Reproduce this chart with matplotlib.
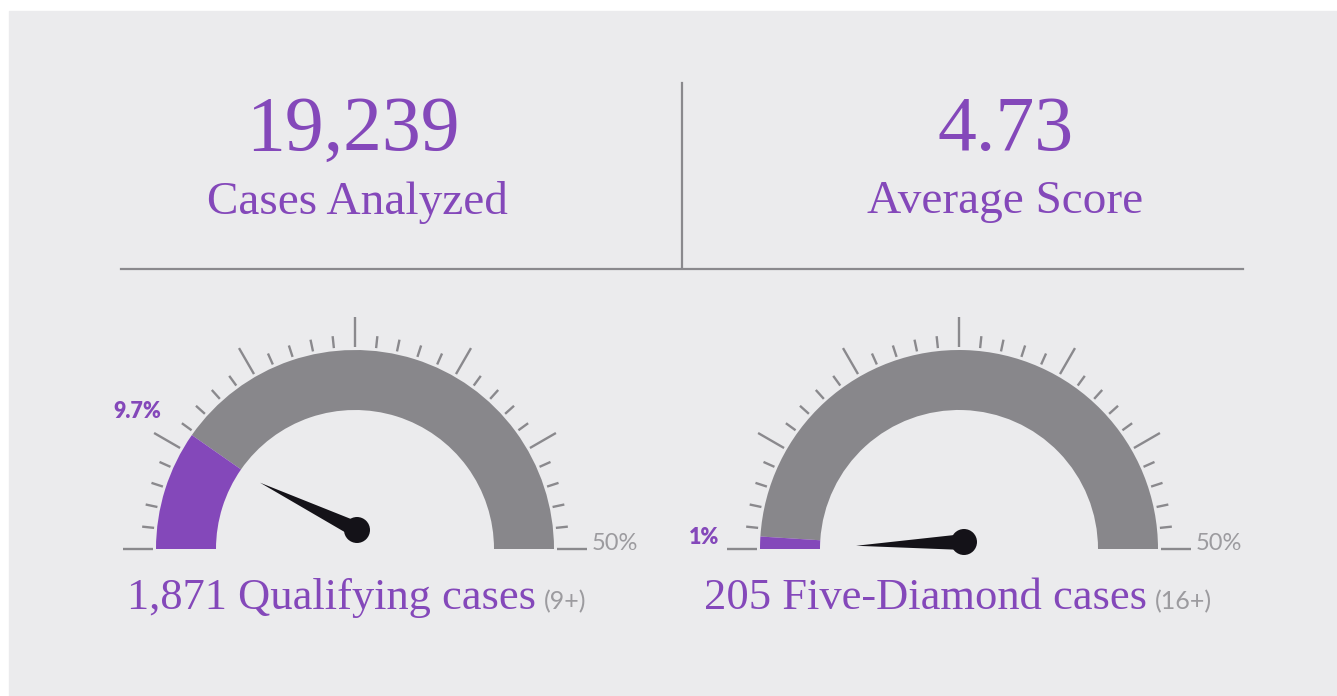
import numpy as np
import matplotlib
matplotlib.use("Agg")
import matplotlib.pyplot as plt
from matplotlib.patches import Wedge, Circle, Polygon, Rectangle

# summary numbers
stat_values = ["19,239", "4.73"]
stat_labels = ["Cases Analyzed", "Average Score"]

# gauges
gauge_values = [9.7, 1.0]          # percent
gauge_max = 50
value_labels = ["9.7%", "1%"]
counts = ["1,871", "205"]
names = ["Qualifying cases", "Five-Diamond cases"]
thresholds = ["(9+)", "(16+)"]
needle_deg = [154, 182]            # needle direction

PURPLE = "#8448ba"
ARC = "#88878b"
TICK = "#8a898d"
LIGHT = "#9c9b9f"
BG = "#ebebed"
NEEDLE = "#141218"

W, H = 1337, 696
fig = plt.figure(figsize=(W / 100, H / 100), dpi=100)
fig.patch.set_facecolor("white")
ax = fig.add_axes([0, 0, 1, 1])
ax.set_xlim(0, W)
ax.set_ylim(0, H)
ax.set_aspect("equal")
ax.axis("off")

def Y(y):  # image y (top-down) -> axis y
    return H - y

ax.add_patch(Rectangle((9, 0), W, Y(11), color=BG, zorder=0))

serif = ["Liberation Serif", "DejaVu Serif"]
sans = ["Lato", "DejaVu Sans"]

# top stats
for cx, lx, val, lab in zip([353, 1006], [357, 1005], stat_values, stat_labels):
    ax.text(cx, Y(131), val, ha="center", va="center", fontsize=56,
            family=serif, color=PURPLE)
    ax.text(lx, Y(202), lab, ha="center", va="center", fontsize=34,
            family=serif, color=PURPLE)

ax.plot([682, 682], [Y(83), Y(268)], color=TICK, lw=1.6)
ax.plot([121, 1243], [Y(269), Y(269)], color=TICK, lw=1.6)

# gauges
centers = [(355, 549), (959, 549)]
pivots = [(357, 530), (964, 542)]
r_out, r_in = 199, 139
label_pos = [(137, 412), (704, 537)]

fig.canvas.draw()
for i, v in enumerate(gauge_values):
    cx, cy = centers[i][0], Y(centers[i][1])
    split = 180 - 180 * v / gauge_max
    ax.add_patch(Wedge((cx, cy), r_out, 0, split, width=r_out - r_in,
                       color=ARC, lw=0, zorder=2))
    ax.add_patch(Wedge((cx, cy), r_out, split, 180, width=r_out - r_in,
                       color=PURPLE, lw=0, zorder=2))

    # ticks every 6 degrees, long ones every 30
    for k in range(31):
        a = np.radians(k * 6)
        r2 = 232 if k % 5 == 0 else 214
        ax.plot([cx + 202 * np.cos(a), cx + r2 * np.cos(a)],
                [cy + 202 * np.sin(a), cy + r2 * np.sin(a)],
                color=TICK, lw=1.7, solid_capstyle="butt", zorder=1)

    ax.text(cx + 237, cy + 6, "50%", ha="left", va="center", fontsize=17,
            family=sans, color=LIGHT)
    lx, ly = label_pos[i]
    ax.text(lx, Y(ly), value_labels[i], ha="center", va="center",
            fontsize=15.5, family=sans, weight="heavy", color=PURPLE)

    # needle
    px, py = pivots[i][0], Y(pivots[i][1])
    a = np.radians(needle_deg[i])
    d = np.array([np.cos(a), np.sin(a)])
    n = np.array([-d[1], d[0]])
    tip = np.array([px, py]) + 108 * d
    base = np.array([px, py])
    ax.add_patch(Polygon([tip, base + 8 * n, base - 8 * n], closed=True,
                         color=NEEDLE, lw=0, zorder=4))
    ax.add_patch(Circle((px, py), 13, color=NEEDLE, lw=0, zorder=4))

# bottom labels
for x0, c, nm, th in zip([127, 704], counts, names, thresholds):
    t = ax.text(x0, Y(598), f"{c} {nm}", ha="left", va="center",
                fontsize=32, family=serif, color=PURPLE)
    bb = t.get_window_extent(fig.canvas.get_renderer())
    ax.text(bb.x1 + 8, Y(602), th, ha="left", va="center", fontsize=18,
            family=sans, color=LIGHT)

fig.savefig("out.png", dpi=100, facecolor=fig.get_facecolor())
